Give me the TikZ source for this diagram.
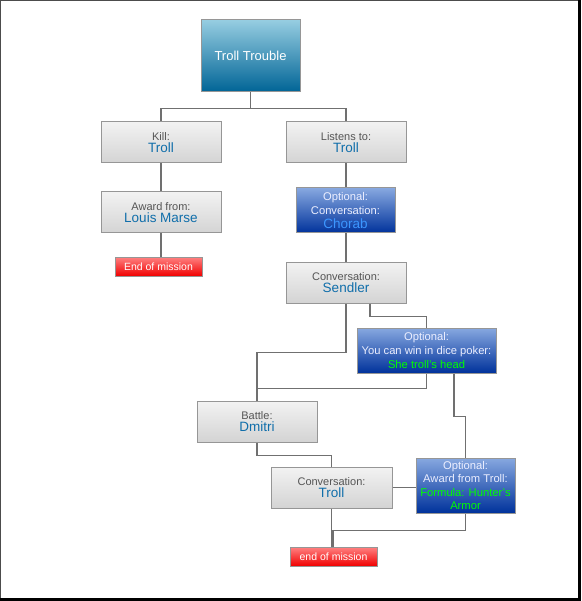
\documentclass[tikz,border=0pt]{standalone}
\usepackage{fontspec}
\setmainfont{Liberation Sans}
\definecolor{lineGray}{RGB}{112,112,112}
\definecolor{boxEdge}{RGB}{150,150,150}
\definecolor{labelGray}{RGB}{85,85,85}
\definecolor{nameBlue}{RGB}{16,110,170}
\definecolor{lightBlue}{RGB}{60,150,255}
\definecolor{brightGreen}{RGB}{0,255,0}
\definecolor{optWhite}{RGB}{235,238,255}
\begin{document}
\begin{tikzpicture}[x=1pt,y=-1pt,
    link/.style={draw=lineGray,line width=1.3pt},
    box/.style={draw=boxEdge,line width=1pt,align=center,inner sep=0pt,
      minimum width=120pt,minimum height=41pt,
      top color=black!5,bottom color=black!17},
    title/.style={box,minimum width=99pt,minimum height=72pt,
      shading=axis,top color={rgb,255:red,150;green,205;blue,225},
      middle color={rgb,255:red,0;green,150;blue,195},
      bottom color={rgb,255:red,0;green,100;blue,150},
      text=white,font=\fontsize{13}{15}\selectfont},
    optbox/.style={box,minimum width=99pt,minimum height=45pt,
      top color={rgb,255:red,135;green,168;blue,224},
      bottom color={rgb,255:red,0;green,50;blue,155},
      text=optWhite,font=\fontsize{11.2}{14}\selectfont},
    endbox/.style={box,minimum width=87pt,minimum height=19pt,
      top color={rgb,255:red,255;green,130;blue,130},
      bottom color={rgb,255:red,240;green,0;blue,0},
      text=white,font=\fontsize{10.5}{12}\selectfont}]
  \newcommand{\lbl}[1]{{\color{labelGray}\fontsize{11}{13}\selectfont #1}}
  \newcommand{\nme}[1]{{\color{nameBlue}\fontsize{13.5}{17}\selectfont #1}}

  \useasboundingbox (0,0) rectangle (581,601);
  % frame
  \draw[black!70,line width=1pt] (0.5,601) -- (0.5,0.5) -- (581,0.5);
  \draw[black,line width=3pt] (579.5,0) -- (579.5,599.5) -- (0,599.5);

  % quest boxes
  \node[title] (top) at (250.5,56) {Troll Trouble};
  \node[box] (kill) at (161,142.5) {\lbl{Kill:}\\\nme{Troll}};
  \node[box] (listen) at (346,142.5) {\lbl{Listens to:}\\\nme{Troll}};
  \node[box] (award) at (161,212.5) {\lbl{Award from:}\\\nme{Louis Marse}};
  \node[endbox] (endA) at (158.5,266.5) {End of mission};
  \node[optbox] (chorab) at (345.5,210.5)
    {Optional:\\Conversation:\\{\color{lightBlue}\fontsize{13.5}{14}\selectfont Chorab}};
  \node[box] (sendler) at (346,282.5) {\lbl{Conversation:}\\\nme{Sendler}};
  \node[optbox,minimum width=139pt] (dice) at (426.5,350.5)
    {Optional:\\You can win in dice poker:\\{\color{brightGreen}She troll's head}};
  \node[box] (battle) at (257,421.5) {\lbl{Battle:}\\\nme{Dmitri}};
  \node[box,minimum width=121pt] (convtroll) at (331.5,487.5)
    {\lbl{Conversation:}\\\nme{Troll}};
  \node[optbox,minimum height=55pt,font=\fontsize{11.2}{13.5}\selectfont] (armor) at (465.5,485.5)
    {Optional:\\Award from Troll:\\{\color{brightGreen}Formula: Hunter's}\\{\color{brightGreen}Armor}};
  \node[endbox] (endB) at (333.5,556.5) {end of mission};

  % connectors
  \draw[link] (top.south) -- ++(0,16) -| (kill.north);
  \draw[link] (top.south) -- ++(0,16) -| (listen.north);
  \draw[link] (kill.south) -- (award.north);
  \draw[link] (award.south) -- (award.south |- endA.north);
  \draw[link] (listen.south) -- (listen.south |- chorab.north);
  \draw[link] (chorab.south -| sendler.north) -- (sendler.north);
  \draw[link] (sendler.south) -- ++(0,49) -| (battle.north);
  \draw[link] ([xshift=24]sendler.south) -- ++(0,13) -| (dice.north);
  \draw[link] (dice.south) -- ++(0,15) -| (battle.north);
  \draw[link] ([xshift=27.5]dice.south) -- ++(0,43) -| (armor.north);
  \draw[link] (battle.south) -- ++(0,13) -| (convtroll.north);
  \draw[link] (convtroll.east) -- (convtroll.east -| armor.west);
  \draw[link] (convtroll.south) -- (convtroll.south |- endB.north);
  \draw[link] (armor.south) -- ++(0,17) -| ([xshift=-0.5]endB.north);
\end{tikzpicture}
\end{document}
